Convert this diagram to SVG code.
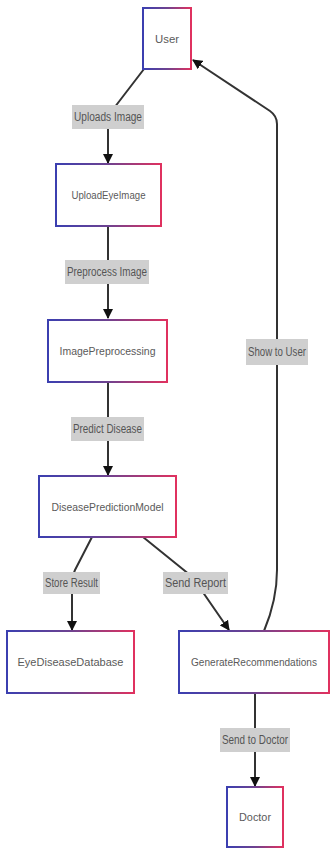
<svg xmlns="http://www.w3.org/2000/svg" width="331" height="850" viewBox="0 0 331 850">
<style>
.node rect{fill:#fff;stroke:url(#bg);stroke-width:2}
.node text{font-family:"Liberation Sans",Arial,sans-serif;font-size:11px;fill:#5a5a5a;text-anchor:middle;dominant-baseline:central}
.edge{fill:none;stroke:#333;stroke-width:2}
.lbl rect{fill:#cfcfcf}
.lbl text{font-family:"Liberation Sans",Arial,sans-serif;font-size:12px;fill:#555;text-anchor:middle;dominant-baseline:central}
</style>
<defs>
<linearGradient id="bg" x1="0" y1="0" x2="1" y2="0">
<stop offset="0" stop-color="#3b3fb0"/>
<stop offset="0.5" stop-color="#6e4290"/>
<stop offset="1" stop-color="#e0315f"/>
</linearGradient>
<marker id="ah" viewBox="0 0 10 10" refX="9" refY="5" markerWidth="5" markerHeight="5" orient="auto">
<path d="M0,0 L10,5 L0,10 z" fill="#111"/>
</marker>
</defs>
<rect width="331" height="850" fill="#fff"/>
<g id="edges">
<path class="edge" d="M144,69 L111,112 Q108,116 108,121 L108,163" marker-end="url(#ah)"/>
<path class="edge" d="M108,226 L108,318" marker-end="url(#ah)"/>
<path class="edge" d="M108,382 L108,475" marker-end="url(#ah)"/>
<path class="edge" d="M92,537 L75,570 Q72,576 72,582 L72,630" marker-end="url(#ah)"/>
<path class="edge" d="M143,537 L190,575 Q196,580 200,588 L229,630" marker-end="url(#ah)"/>
<path class="edge" d="M255,693 L255,786" marker-end="url(#ah)"/>
<path class="edge" d="M264,631 Q277,600 277,570 L277,124 Q277,116 270,111 L193,60" marker-end="url(#ah)"/>
</g>
<g id="labels">
<g class="lbl"><rect x="72" y="105" width="72" height="24"/><text x="108" y="117" textLength="68" lengthAdjust="spacingAndGlyphs">Uploads Image</text></g>
<g class="lbl"><rect x="65" y="260" width="84" height="24"/><text x="107" y="272" textLength="80" lengthAdjust="spacingAndGlyphs">Preprocess Image</text></g>
<g class="lbl"><rect x="71" y="417" width="73" height="24"/><text x="107.5" y="429" textLength="69" lengthAdjust="spacingAndGlyphs">Predict Disease</text></g>
<g class="lbl"><rect x="43" y="572" width="57" height="22"/><text x="71.5" y="583" textLength="53" lengthAdjust="spacingAndGlyphs">Store Result</text></g>
<g class="lbl"><rect x="163" y="572" width="65" height="22"/><text x="195.5" y="583" textLength="61" lengthAdjust="spacingAndGlyphs">Send Report</text></g>
<g class="lbl"><rect x="220" y="728" width="70" height="24"/><text x="255" y="740" textLength="66" lengthAdjust="spacingAndGlyphs">Send to Doctor</text></g>
<g class="lbl"><rect x="246" y="339" width="62" height="26"/><text x="277" y="352" textLength="58" lengthAdjust="spacingAndGlyphs">Show to User</text></g>
</g>
<g id="User" class="node"><rect x="143" y="8" width="48" height="61"/><text x="167" y="38.5" textLength="24" lengthAdjust="spacingAndGlyphs">User</text></g>
<g id="UploadEyeImage" class="node"><rect x="56" y="164" width="105" height="62"/><text x="108.5" y="195" textLength="74" lengthAdjust="spacingAndGlyphs">UploadEyeImage</text></g>
<g id="ImagePreprocessing" class="node"><rect x="48" y="320" width="119" height="62"/><text x="107.5" y="351" textLength="96" lengthAdjust="spacingAndGlyphs">ImagePreprocessing</text></g>
<g id="DiseasePredictionModel" class="node"><rect x="39" y="476" width="137" height="61"/><text x="107.5" y="506.5" textLength="112" lengthAdjust="spacingAndGlyphs">DiseasePredictionModel</text></g>
<g id="EyeDiseaseDatabase" class="node"><rect x="7" y="631" width="127" height="62"/><text x="70.5" y="662" textLength="106" lengthAdjust="spacingAndGlyphs">EyeDiseaseDatabase</text></g>
<g id="GenerateRecommendations" class="node"><rect x="179" y="631" width="150" height="62"/><text x="254" y="662" textLength="126" lengthAdjust="spacingAndGlyphs">GenerateRecommendations</text></g>
<g id="Doctor" class="node"><rect x="227" y="787" width="56" height="60"/><text x="255" y="817" textLength="32" lengthAdjust="spacingAndGlyphs">Doctor</text></g>
</svg>
